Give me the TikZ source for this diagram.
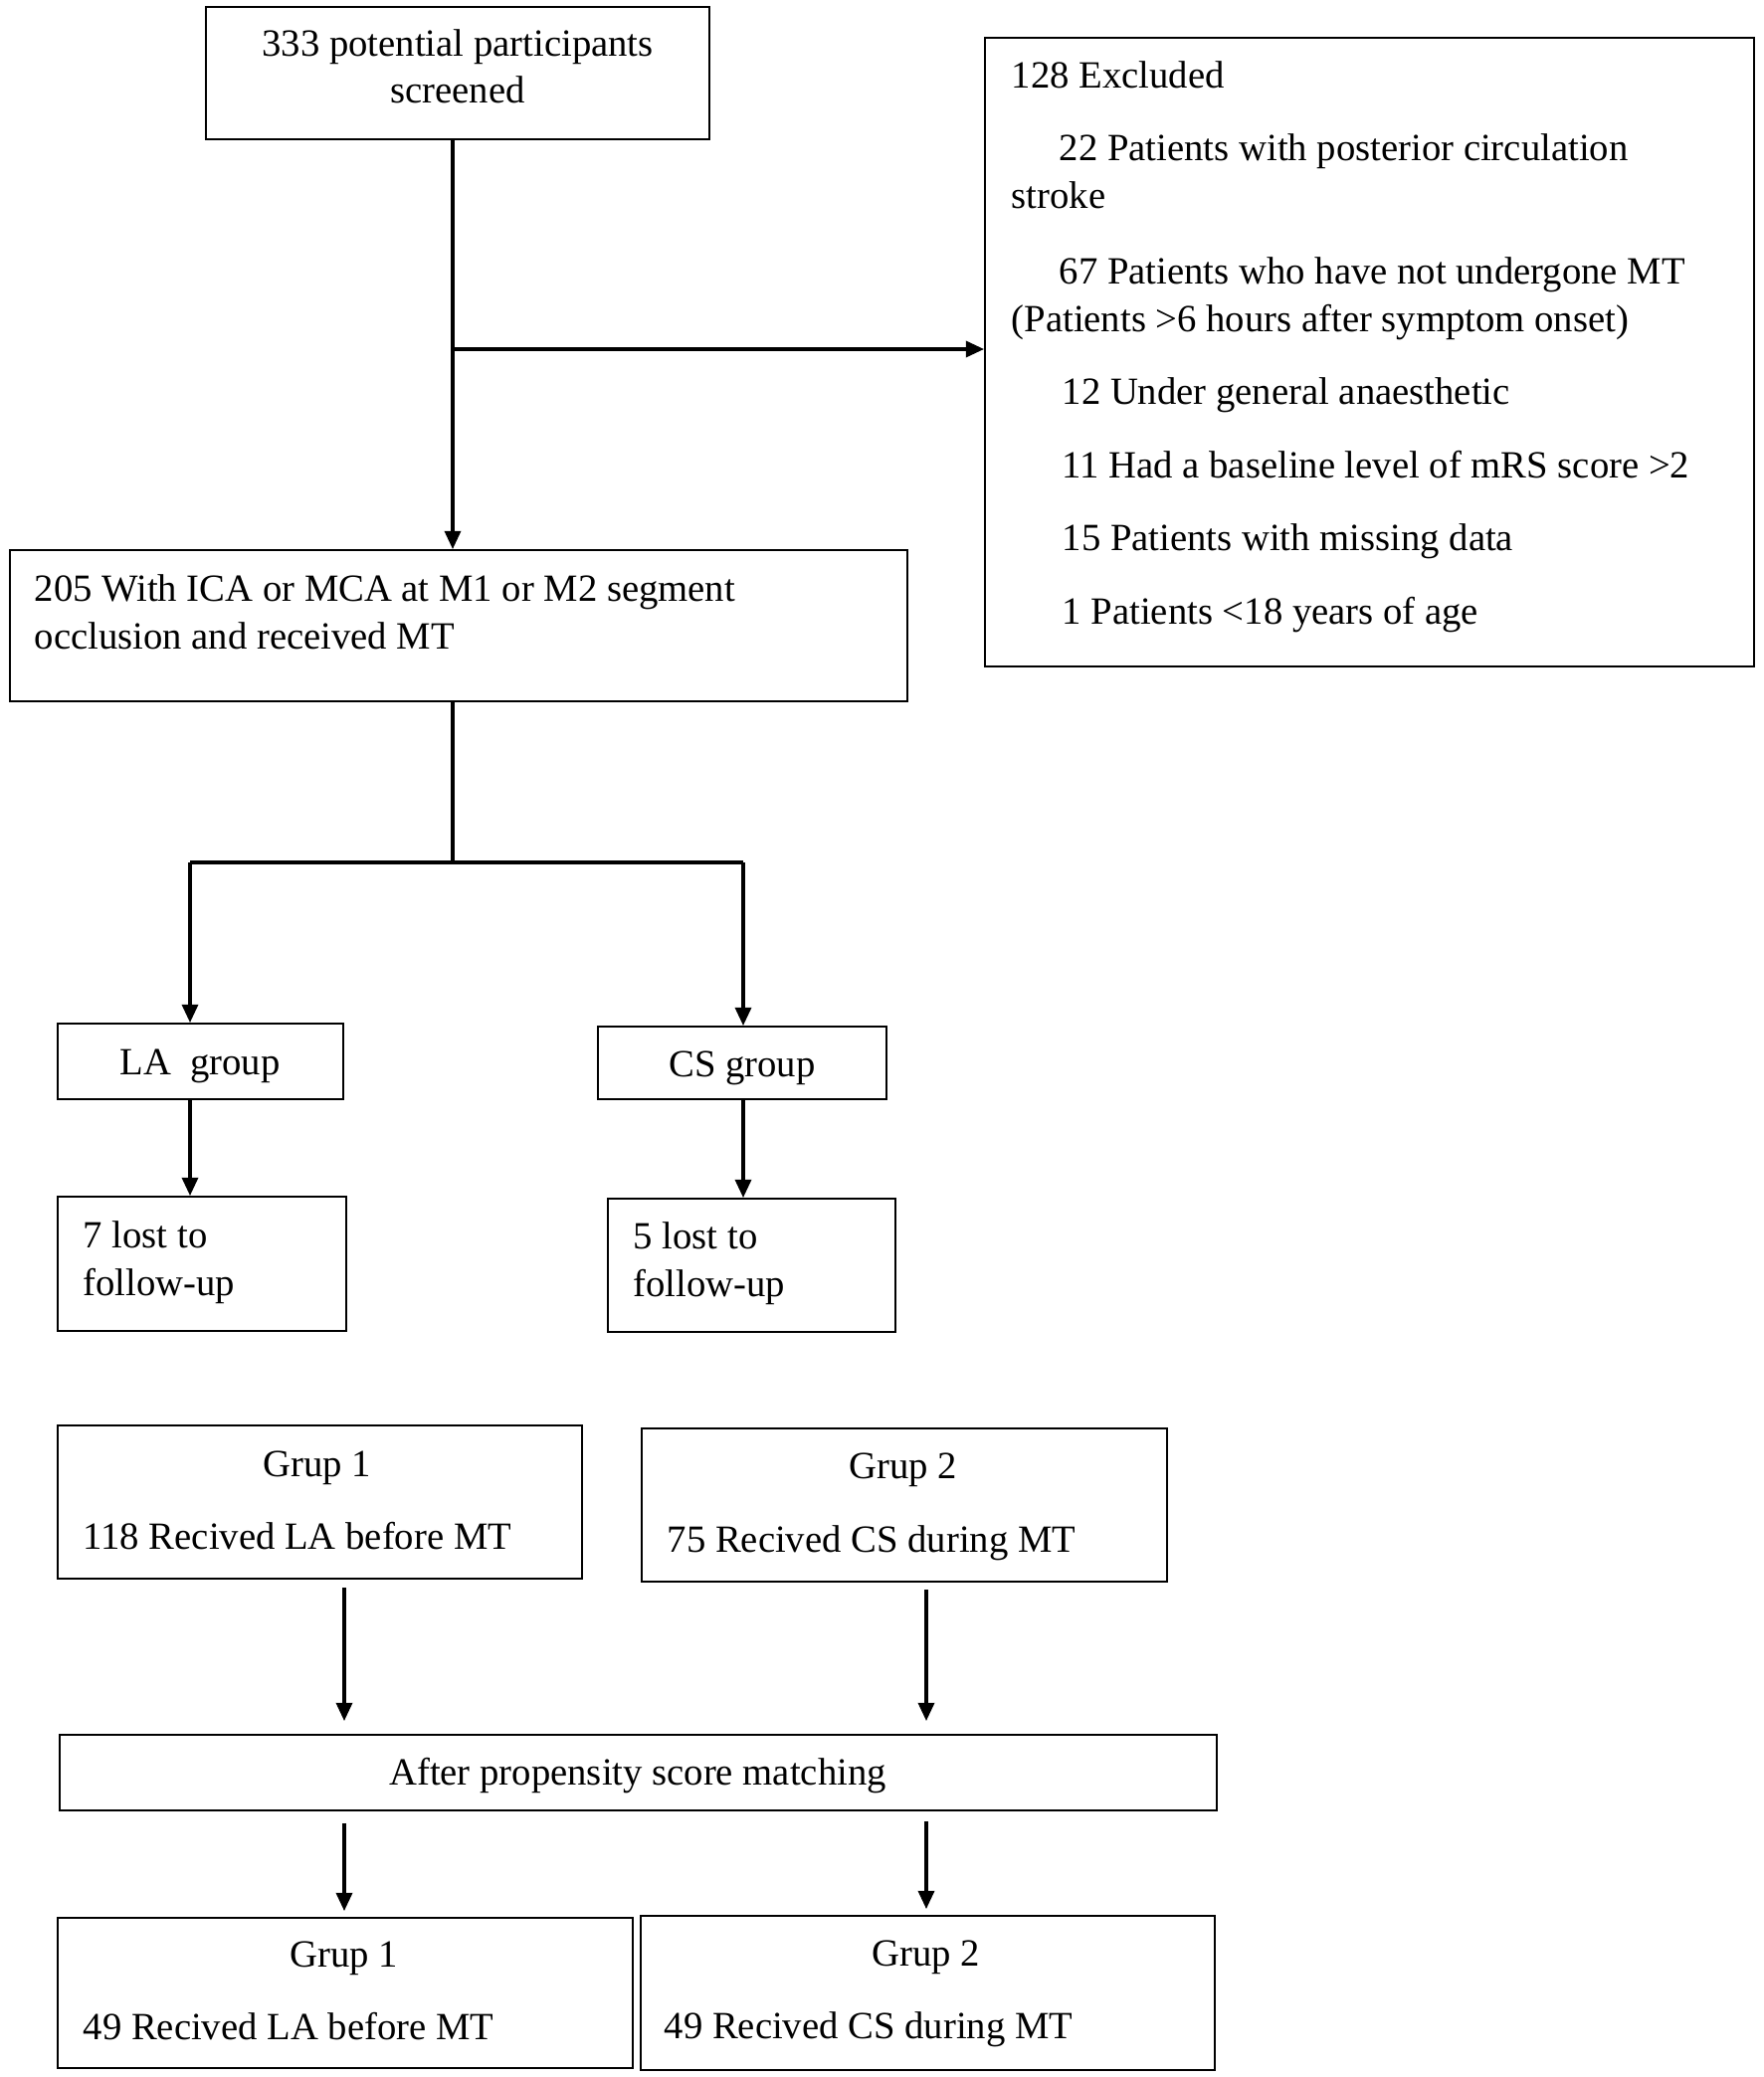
\documentclass[tikz,border=0pt]{standalone}
\usepackage{fontspec}
\setmainfont{Liberation Serif}
\usetikzlibrary{arrows.meta,fit}
\begin{document}
\begin{tikzpicture}[x=0.01cm,y=-0.01cm,
  font=\fontsize{11}{13.5}\selectfont,
  box/.style={draw, line width=0.55pt, inner sep=0pt},
  txt/.style={inner sep=0pt, align=left},
  ctxt/.style={inner sep=0pt, align=center},
  conn/.style={line width=0.9pt},
  arr/.style={conn, -{Triangle[length=5.2pt,width=4.6pt]}},
]
\useasboundingbox (0,0) rectangle (1772,2088);
\fill[white] (0,0) rectangle (1772,2088);

% boxes
\node[box, fit={(207,7) (713,140)}] (top) {};
\node[box, fit={(10,553) (912,705)}] (b205) {};
\node[box, fit={(990,38) (1763,670)}] (excl) {};
\node[box, fit={(58,1029) (345,1105)}] (la) {};
\node[box, fit={(601,1032) (891,1105)}] (cs) {};
\node[box, fit={(58,1203) (348,1338)}] (lost7) {};
\node[box, fit={(611,1205) (900,1339)}] (lost5) {};
\node[box, fit={(58,1433) (585,1587)}] (g1) {};
\node[box, fit={(645,1436) (1173,1590)}] (g2) {};
\node[box, fit={(60,1744) (1223,1820)}] (psm) {};
\node[box, fit={(58,1928) (636,2079)}] (m1) {};
\node[box, fit={(644,1926) (1221,2081)}] (m2) {};

% texts (base anchor = baseline of last line)
\node[ctxt, anchor=base] (ttop) at (460,103.5) {333 potential participants\\screened};
\node[txt, anchor=base west] (t205) at (34,652) {205 With ICA or MCA at M1 or M2 segment\\occlusion and received MT};
\node[txt, anchor=base west] (texcl) at (1016,627) {128 Excluded\\[7.4pt]
\hspace*{13.7pt}22 Patients with posterior circulation\\
stroke\\[8.2pt]
\hspace*{13.7pt}67 Patients who have not undergone MT\\
(Patients >6 hours after symptom onset)\\[7.4pt]
\hspace*{14.5pt}12 Under general anaesthetic\\[7.4pt]
\hspace*{14.5pt}11 Had a baseline level of mRS score >2\\[7.4pt]
\hspace*{14.5pt}15 Patients with missing data\\[7.4pt]
\hspace*{14.5pt}1 Patients <18 years of age};
\node[ctxt, anchor=base] (tla) at (201,1080) {LA\ \ group};
\node[ctxt, anchor=base] (tcs) at (746,1082) {CS group};
\node[txt, anchor=base west] (tl7) at (83,1302) {7 lost to\\follow-up};
\node[txt, anchor=base west] (tl5) at (636,1303) {5 lost to\\follow-up};
\node[ctxt, anchor=base] (tg1h) at (319,1484) {Grup 1};
\node[txt, anchor=base west] (tg1) at (83,1557) {118 Recived LA before MT};
\node[ctxt, anchor=base] (tg2h) at (908,1486) {Grup 2};
\node[txt, anchor=base west] (tg2) at (670,1560) {75 Recived CS during MT};
\node[ctxt, anchor=base] (tpsm) at (641,1794) {After propensity score matching};
\node[ctxt, anchor=base] (tm1h) at (346,1977) {Grup 1};
\node[txt, anchor=base west] (tm1) at (83,2050) {49 Recived LA before MT};
\node[ctxt, anchor=base] (tm2h) at (931,1976) {Grup 2};
\node[txt, anchor=base west] (tm2) at (667,2049) {49 Recived CS during MT};

% junctions
\coordinate (j1) at (455,351);
\coordinate (j2) at (455,867);
\coordinate (hl) at (191,867);
\coordinate (hr) at (747,867);
\coordinate (cl) at (346,1600);
\coordinate (cr) at (931,1600);

% connectors
\draw[arr] (top.south -| j1) -- (b205.north -| j1);
\draw[arr] (j1) -- (excl.west |- j1);
\draw[conn] (b205.south -| j2) -- (j2);
\draw[conn] (hl) -- (hr);
\draw[arr] (hl) -- (la.north -| hl);
\draw[arr] (hr) -- (cs.north -| hr);
\draw[arr] (la.south -| hl) -- (lost7.north -| hl);
\draw[arr] (cs.south -| hr) -- (lost5.north -| hr);
\draw[arr, shorten <=2.3pt, shorten >=3.7pt] (g1.south -| cl) -- (psm.north -| cl);
\draw[arr, shorten <=2pt, shorten >=3.7pt] (g2.south -| cr) -- (psm.north -| cr);
\draw[arr, shorten <=3.4pt, shorten >=1.7pt] (psm.south -| cl) -- (m1.north -| cl);
\draw[arr, shorten <=2.8pt, shorten >=1.7pt] (psm.south -| cr) -- (m2.north -| cr);
\end{tikzpicture}
\end{document}
